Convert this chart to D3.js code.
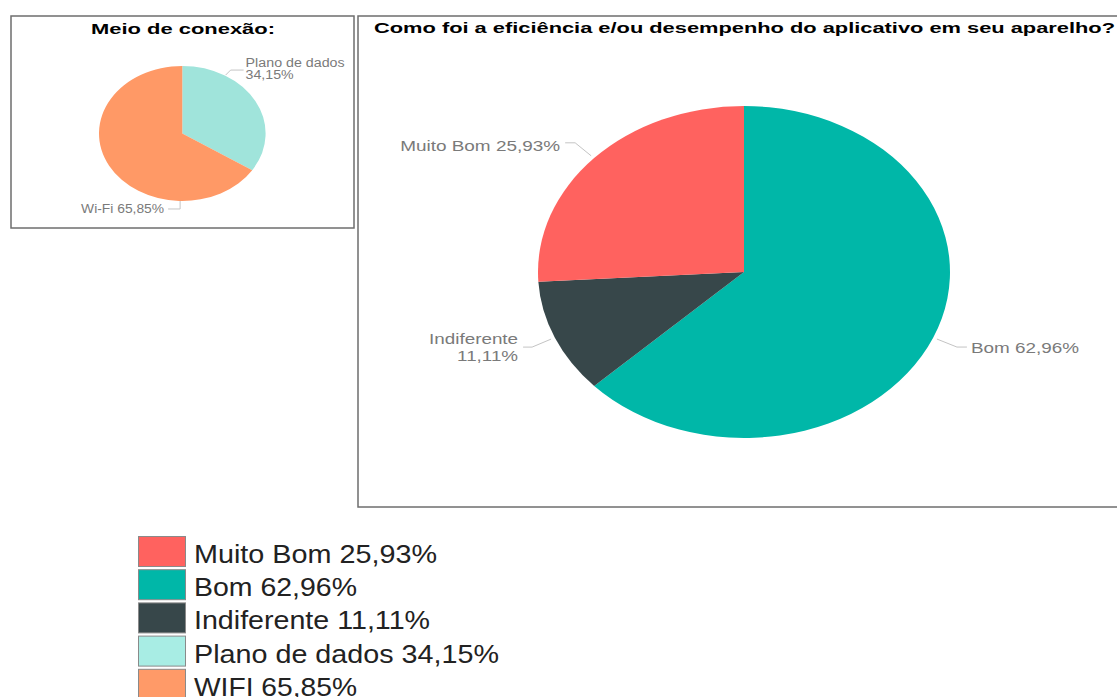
<!DOCTYPE html>
<html>
<head>
<meta charset="utf-8">
<script src="https://cdn.jsdelivr.net/npm/d3@7"></script>
<style>
  html, body { margin: 0; padding: 0; background: #fff; }
  svg { display: block; font-family: "Liberation Sans", Arial, sans-serif; }
</style>
</head>
<body>
<svg id="chart" width="1117" height="697"></svg>
<script>
// ---- data ----
const connCategories = ["Plano de dados", "Wi-Fi"];
const connValues = [34.15, 65.85];
const connColors = ["#A0E4DB", "#FF9966"];

const perfCategories = ["Bom", "Indiferente", "Muito Bom"];
const perfValues = [62.96, 11.11, 25.93];
const perfColors = ["#00B7A8", "#37474A", "#FF625F"];

const legendLabels = ["Muito Bom", "Bom", "Indiferente", "Plano de dados", "WIFI"];
const legendValues = [25.93, 62.96, 11.11, 34.15, 65.85];
const legendColors = ["#FF625F", "#00B7A8", "#37474A", "#A8EDE4", "#FF9A68"];

const fmt = v => d3.format(".2f")(v).replace(".", ",") + "%";

const svg = d3.select("#chart");

// ---- panel frames ----
svg.append("rect").attr("x", 11).attr("y", 16).attr("width", 343).attr("height", 212)
  .attr("fill", "none").attr("stroke", "#6e6e6e").attr("stroke-width", 1.5);
svg.append("rect").attr("x", 358).attr("y", 16).attr("width", 800).attr("height", 491)
  .attr("fill", "none").attr("stroke", "#6e6e6e").attr("stroke-width", 1.5);

// ---- titles ----
svg.append("text").attr("x", 91).attr("y", 33.5)
  .attr("font-size", 14.7).attr("font-weight", "bold").attr("fill", "#000")
  .attr("textLength", 184).attr("lengthAdjust", "spacingAndGlyphs")
  .text("Meio de conexão:");
svg.append("text").attr("x", 374).attr("y", 32.5)
  .attr("font-size", 15.3).attr("font-weight", "bold").attr("fill", "#000")
  .attr("textLength", 741).attr("lengthAdjust", "spacingAndGlyphs")
  .text("Como foi a eficiência e/ou desempenho do aplicativo em seu aparelho?");

// ---- elliptical pie helper ----
function drawPie(cfg) {
  const pie = d3.pie().sort(null).value(d => d.value);
  const arcs = pie(cfg.values.map((v, i) => ({ value: v, name: cfg.categories[i], color: cfg.colors[i] })));
  const arc = d3.arc().innerRadius(0).outerRadius(cfg.ry);
  const sx = cfg.rx / cfg.ry;
  const g = svg.append("g").attr("transform", `translate(${cfg.cx},${cfg.cy}) scale(${sx},1)`);
  g.selectAll("path").data(arcs).join("path")
    .attr("d", arc).attr("fill", d => d.data.color);

  // leader lines and labels
  arcs.forEach((a, i) => {
    const L = cfg.labels[i];
    const ang = L.angle != null ? L.angle * Math.PI / 180 : (a.startAngle + a.endAngle) / 2;
    const p0 = [cfg.cx + cfg.rx * L.r * Math.sin(ang), cfg.cy - cfg.ry * L.r * Math.cos(ang)];
    const p1 = [p0[0] + L.elbow[0], p0[1] + L.elbow[1]];
    const p2 = [p1[0] + L.tail, p1[1]];
    svg.append("polyline")
      .attr("points", [p0, p1, p2].map(p => p.join(",")).join(" "))
      .attr("fill", "none").attr("stroke", "#c4c4c4").attr("stroke-width", 1);
    const lines = L.lines(a.data.name, fmt(a.data.value));
    const right = L.tail < 0;
    const tx = p2[0] + (right ? -L.gap : L.gap);
    lines.forEach((s, k) => {
      svg.append("text")
        .attr("x", tx).attr("y", p2[1] + L.dy + k * L.lh)
        .attr("text-anchor", right ? "end" : "start")
        .attr("font-size", L.fs).attr("fill", "#7a7a7a")
        .attr("textLength", L.widths[k]).attr("lengthAdjust", "spacingAndGlyphs")
        .text(s);
    });
  });
}

// connection type pie
drawPie({
  cx: 182.3, cy: 133.5, rx: 83.3, ry: 67.5,
  categories: connCategories, values: connValues, colors: connColors,
  labels: [
    { angle: 31, r: 1.01, elbow: [5, -5], tail: 13, gap: 2, dy: -3, lh: 12, fs: 12,
      widths: [99, 48], lines: (n, v) => [n, v] },
    { angle: 181.5, r: 1.0, elbow: [0, 8], tail: -12, gap: 4, dy: 4, lh: 12, fs: 12.5,
      widths: [83], lines: (n, v) => [n + " " + v] }
  ]
});

// app performance pie
drawPie({
  cx: 744, cy: 272, rx: 206, ry: 166,
  categories: perfCategories, values: perfValues, colors: perfColors,
  labels: [
    { angle: null, r: 1.02, elbow: [20, 8], tail: 10, gap: 4, dy: 6, lh: 17, fs: 15,
      widths: [108], lines: (n, v) => [n + " " + v] },
    { angle: null, r: 1.02, elbow: [-19, 8], tail: -9, gap: 5, dy: -3, lh: 17, fs: 15,
      widths: [89, 61], lines: (n, v) => [n, v] },
    { angle: null, r: 1.02, elbow: [-16, -13], tail: -10, gap: 5, dy: 8, lh: 17, fs: 15,
      widths: [160], lines: (n, v) => [n + " " + v] }
  ]
});

// ---- legend ----
const legY = d3.scaleLinear().domain([0, 1]).range([536, 569.2]);
const legWidths = [243, 163, 236, 305, 163];
const leg = svg.append("g");
legendLabels.forEach((name, i) => {
  leg.append("rect").attr("x", 138.5).attr("y", legY(i) + 0.5)
    .attr("width", 47).attr("height", 30)
    .attr("fill", legendColors[i]).attr("stroke", "#8a8a8a").attr("stroke-width", 1);
  leg.append("text").attr("x", 194).attr("y", legY(i) + 27)
    .attr("font-size", 25).attr("fill", "#222")
    .attr("textLength", legWidths[i]).attr("lengthAdjust", "spacingAndGlyphs")
    .text(name + " " + fmt(legendValues[i]));
});
</script>
</body>
</html>
